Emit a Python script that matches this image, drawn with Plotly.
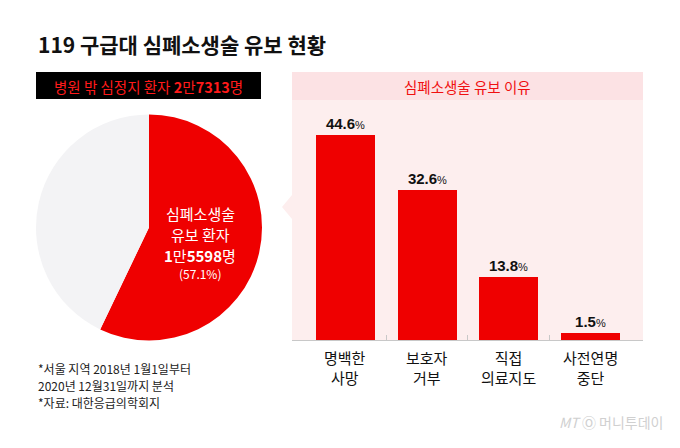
import plotly.graph_objects as go

W, H = 680, 448

title = "119 구급대 심폐소생술 유보 현황"
box_text = "병원 밖 심정지 환자 <b>2</b>만<b>7313</b>명"
panel_title = "심폐소생술 유보 이유"

pie_labels = ["심폐소생술 유보 환자", "기타"]
total_patients = 27313
cpr_withheld = 15598
pie_values = [cpr_withheld, total_patients - cpr_withheld]
pie_colors = ["#ef0000", "#f3f3f5"]

categories = ["명백한<br>사망", "보호자<br>거부", "직접<br>의료지도", "사전연명<br>중단"]
values = [44.6, 32.6, 13.8, 1.5]

notes = ["*서울 지역 2018년 1월1일부터", "2020년 12월31일까지 분석", "*자료: 대한응급의학회지"]

FONT = "Noto Sans CJK KR"
RED = "#ef0000"


def px(x):
    return x / W


def py(y):
    return 1 - y / H


fig = go.Figure()

# Pie
fig.add_trace(go.Pie(
    labels=pie_labels, values=pie_values, sort=False, direction="clockwise",
    rotation=0, marker=dict(colors=pie_colors, line=dict(width=0)),
    textinfo="none", hoverinfo="label+value+percent", showlegend=False,
    domain=dict(x=[px(36), px(262)], y=[py(340.5), py(114.5)]),
))

# Bars
xs = list(range(len(categories)))
fig.add_trace(go.Bar(
    x=xs, y=values, width=0.72, marker=dict(color=RED, line=dict(width=0)),
    text=[f"<b>{v}</b><span style='font-size:11px'>%</span>" for v in values],
    textposition="outside", cliponaxis=False,
    textfont=dict(family="Liberation Sans", size=15, color="#111"),
    showlegend=False, hoverinfo="skip",
))

shapes = [
    # pink panel
    dict(type="rect", xref="paper", yref="paper", x0=px(292), x1=px(643), y0=py(340), y1=py(72),
         fillcolor="#fdeeee", line=dict(width=0), layer="below"),
    dict(type="rect", xref="paper", yref="paper", x0=px(292), x1=px(643), y0=py(100), y1=py(72),
         fillcolor="#fce2e4", line=dict(width=0), layer="below"),
    # pointer triangle
    dict(type="path", xref="paper", yref="paper",
         path=f"M {px(292)},{py(195)} L {px(282)},{py(207)} L {px(292)},{py(219)} Z",
         fillcolor="#fdeeee", line=dict(width=0), layer="below"),
    # black box
    dict(type="rect", xref="paper", yref="paper", x0=px(36), x1=px(261), y0=py(99), y1=py(72),
         fillcolor="#000000", line=dict(width=0)),
]

annotations = [
    dict(text=f"<b>{title}</b>", x=px(36), y=py(44), xref="paper", yref="paper", xanchor="left", yanchor="middle",
         showarrow=False, font=dict(family=FONT, size=21, color="#111")),
    dict(text=box_text, x=px(148.5), y=py(86), xref="paper", yref="paper", xanchor="center", yanchor="middle",
         showarrow=False, font=dict(family=FONT, size=14.5, color="#ff1a1a")),
    dict(text=panel_title, x=px(467.5), y=py(86), xref="paper", yref="paper", xanchor="center", yanchor="middle",
         showarrow=False, font=dict(family=FONT, size=14.5, color="#f01010")),
    # pie labels
    dict(text="심폐소생술", x=px(200), y=py(213), xref="paper", yref="paper", xanchor="center", showarrow=False,
         font=dict(family=FONT, size=15, color="white")),
    dict(text="유보 환자", x=px(200), y=py(234), xref="paper", yref="paper", xanchor="center", showarrow=False,
         font=dict(family=FONT, size=15, color="white")),
    dict(text="<b>1</b>만<b>5598</b>명", x=px(200), y=py(255), xref="paper", yref="paper", xanchor="center",
         showarrow=False, font=dict(family=FONT, size=15, color="white")),
    dict(text=f"({cpr_withheld / total_patients * 100:.1f}%)", x=px(200), y=py(273), xref="paper", yref="paper",
         xanchor="center", showarrow=False, font=dict(family=FONT, size=12, color="white")),
    # watermark
    dict(text="<i>MT</i> Ⓞ 머니투데이", x=px(665), y=py(434), xref="paper", yref="paper", xanchor="right",
         showarrow=False, font=dict(family=FONT, size=14, color="#d0d0d0")),
]

for i, c in enumerate(categories):
    annotations.append(dict(text=c, x=i, y=0, xref="x", yref="y", xanchor="center", yanchor="top",
                            yshift=-5, showarrow=False,
                            font=dict(family=FONT, size=15, color="#111")))

for j, n in enumerate(notes):
    annotations.append(dict(text=n, x=px(36), y=py(368 + 17 * j), xref="paper", yref="paper",
                            xanchor="left", yanchor="middle", showarrow=False,
                            font=dict(family=FONT, size=12, color="#222")))

fig.update_layout(
    width=W, height=H, margin=dict(l=0, r=0, t=0, b=0),
    paper_bgcolor="white", plot_bgcolor="rgba(0,0,0,0)",
    shapes=shapes, annotations=annotations,
    xaxis=dict(domain=[px(292), px(643)], range=[-0.655, 3.643], showgrid=False, zeroline=False,
               showline=True, linecolor="#c8c8c8", linewidth=1,
               tickmode="array", tickvals=[0.5, 1.5, 2.5], ticktext=["", "", ""],
               ticks="inside", ticklen=5, tickcolor="#c8c8c8", fixedrange=True),
    yaxis=dict(domain=[py(340), py(100)], range=[0, 240 / 4.6], visible=False, fixedrange=True),
    bargap=0,
)

fig.write_html("out.html")
